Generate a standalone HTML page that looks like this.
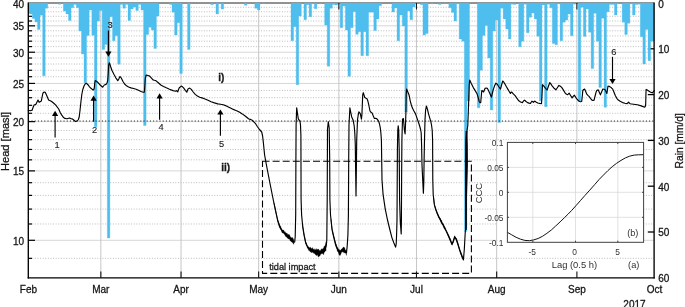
<!DOCTYPE html>
<html lang="en"><head><meta charset="utf-8"><title>Head and rain</title>
<style>html,body{margin:0;padding:0;background:#fff;}svg{display:block;font-family:"Liberation Sans",Arial,Helvetica,sans-serif;}svg text{stroke:#151515;stroke-width:0.28px;}svg .in text,svg text.in{stroke:none;fill:#303030;}svg .nm text{stroke:#222;stroke-width:0.12px;fill:#222;}</style></head><body>
<svg width="685" height="307" viewBox="0 0 685 307">
<rect x="0" y="0" width="685" height="307" fill="#ffffff"/>
<g stroke="#d6d6d6" stroke-width="1" fill="none">
<line x1="28.3" y1="240.30" x2="654.1" y2="240.30"/>
<line x1="28.3" y1="170.88" x2="654.1" y2="170.88"/>
<line x1="28.3" y1="121.63" x2="654.1" y2="121.63"/>
<line x1="28.3" y1="83.43" x2="654.1" y2="83.43"/>
<line x1="28.3" y1="52.22" x2="654.1" y2="52.22"/>
<line x1="28.3" y1="25.83" x2="654.1" y2="25.83"/>
<line x1="100.84" y1="3.0" x2="100.84" y2="278.0" stroke="#c6c6c6"/>
<line x1="181.04" y1="3.0" x2="181.04" y2="278.0" stroke="#c6c6c6"/>
<line x1="258.66" y1="3.0" x2="258.66" y2="278.0" stroke="#c6c6c6"/>
<line x1="338.86" y1="3.0" x2="338.86" y2="278.0" stroke="#c6c6c6"/>
<line x1="416.48" y1="3.0" x2="416.48" y2="278.0" stroke="#c6c6c6"/>
<line x1="496.68" y1="3.0" x2="496.68" y2="278.0" stroke="#c6c6c6"/>
<line x1="576.89" y1="3.0" x2="576.89" y2="142.4" stroke="#c6c6c6"/>
</g>
<g stroke="#bdbdbd" stroke-width="1" stroke-dasharray="1 1.6" fill="none">
<line x1="32.3" y1="258.34" x2="654.1" y2="258.34"/>
<line x1="32.3" y1="223.98" x2="654.1" y2="223.98"/>
<line x1="32.3" y1="209.09" x2="654.1" y2="209.09"/>
<line x1="32.3" y1="195.38" x2="654.1" y2="195.38"/>
<line x1="32.3" y1="182.70" x2="654.1" y2="182.70"/>
<line x1="32.3" y1="159.84" x2="654.1" y2="159.84"/>
<line x1="32.3" y1="149.46" x2="654.1" y2="149.46"/>
<line x1="32.3" y1="139.67" x2="654.1" y2="139.67"/>
<line x1="32.3" y1="130.41" x2="654.1" y2="130.41"/>
<line x1="32.3" y1="113.28" x2="654.1" y2="113.28"/>
<line x1="32.3" y1="105.32" x2="654.1" y2="105.32"/>
<line x1="32.3" y1="97.71" x2="654.1" y2="97.71"/>
<line x1="32.3" y1="90.42" x2="654.1" y2="90.42"/>
<line x1="32.3" y1="76.72" x2="654.1" y2="76.72"/>
<line x1="32.3" y1="70.26" x2="654.1" y2="70.26"/>
<line x1="32.3" y1="64.03" x2="654.1" y2="64.03"/>
<line x1="32.3" y1="58.02" x2="654.1" y2="58.02"/>
<line x1="32.3" y1="46.60" x2="654.1" y2="46.60"/>
<line x1="32.3" y1="41.17" x2="654.1" y2="41.17"/>
<line x1="32.3" y1="35.90" x2="654.1" y2="35.90"/>
<line x1="32.3" y1="30.79" x2="654.1" y2="30.79"/>
<line x1="32.3" y1="21.00" x2="654.1" y2="21.00"/>
<line x1="32.3" y1="16.31" x2="654.1" y2="16.31"/>
<line x1="32.3" y1="11.75" x2="654.1" y2="11.75"/>
<line x1="32.3" y1="7.30" x2="654.1" y2="7.30"/>
</g>
<line x1="28.3" y1="3.0" x2="654.1" y2="3.0" stroke="#262626" stroke-width="1.1"/>
<g stroke="#1a1a1a" stroke-width="1.1">
<line x1="100.84" y1="3.0" x2="100.84" y2="9.5"/>
<line x1="181.04" y1="3.0" x2="181.04" y2="9.5"/>
<line x1="258.66" y1="3.0" x2="258.66" y2="9.5"/>
<line x1="338.86" y1="3.0" x2="338.86" y2="9.5"/>
<line x1="416.48" y1="3.0" x2="416.48" y2="9.5"/>
<line x1="496.68" y1="3.0" x2="496.68" y2="9.5"/>
<line x1="576.89" y1="3.0" x2="576.89" y2="9.5"/>
</g>
<line x1="28.3" y1="258.34" x2="32.0" y2="258.34" stroke="#000" stroke-width="1.2"/>
<line x1="28.3" y1="240.30" x2="35.0" y2="240.30" stroke="#000" stroke-width="1.2"/>
<line x1="28.3" y1="223.98" x2="32.0" y2="223.98" stroke="#000" stroke-width="1.2"/>
<line x1="28.3" y1="209.09" x2="32.0" y2="209.09" stroke="#000" stroke-width="1.2"/>
<line x1="28.3" y1="195.38" x2="32.0" y2="195.38" stroke="#000" stroke-width="1.2"/>
<line x1="28.3" y1="182.70" x2="32.0" y2="182.70" stroke="#000" stroke-width="1.2"/>
<line x1="28.3" y1="170.88" x2="35.0" y2="170.88" stroke="#000" stroke-width="1.2"/>
<line x1="28.3" y1="159.84" x2="32.0" y2="159.84" stroke="#000" stroke-width="1.2"/>
<line x1="28.3" y1="149.46" x2="32.0" y2="149.46" stroke="#000" stroke-width="1.2"/>
<line x1="28.3" y1="139.67" x2="32.0" y2="139.67" stroke="#000" stroke-width="1.2"/>
<line x1="28.3" y1="130.41" x2="32.0" y2="130.41" stroke="#000" stroke-width="1.2"/>
<line x1="28.3" y1="121.63" x2="35.0" y2="121.63" stroke="#000" stroke-width="1.2"/>
<line x1="28.3" y1="113.28" x2="32.0" y2="113.28" stroke="#000" stroke-width="1.2"/>
<line x1="28.3" y1="105.32" x2="32.0" y2="105.32" stroke="#000" stroke-width="1.2"/>
<line x1="28.3" y1="97.71" x2="32.0" y2="97.71" stroke="#000" stroke-width="1.2"/>
<line x1="28.3" y1="90.42" x2="32.0" y2="90.42" stroke="#000" stroke-width="1.2"/>
<line x1="28.3" y1="83.43" x2="35.0" y2="83.43" stroke="#000" stroke-width="1.2"/>
<line x1="28.3" y1="76.72" x2="32.0" y2="76.72" stroke="#000" stroke-width="1.2"/>
<line x1="28.3" y1="70.26" x2="32.0" y2="70.26" stroke="#000" stroke-width="1.2"/>
<line x1="28.3" y1="64.03" x2="32.0" y2="64.03" stroke="#000" stroke-width="1.2"/>
<line x1="28.3" y1="58.02" x2="32.0" y2="58.02" stroke="#000" stroke-width="1.2"/>
<line x1="28.3" y1="52.22" x2="35.0" y2="52.22" stroke="#000" stroke-width="1.2"/>
<line x1="28.3" y1="46.60" x2="32.0" y2="46.60" stroke="#000" stroke-width="1.2"/>
<line x1="28.3" y1="41.17" x2="32.0" y2="41.17" stroke="#000" stroke-width="1.2"/>
<line x1="28.3" y1="35.90" x2="32.0" y2="35.90" stroke="#000" stroke-width="1.2"/>
<line x1="28.3" y1="30.79" x2="32.0" y2="30.79" stroke="#000" stroke-width="1.2"/>
<line x1="28.3" y1="25.83" x2="35.0" y2="25.83" stroke="#000" stroke-width="1.2"/>
<line x1="28.3" y1="21.00" x2="32.0" y2="21.00" stroke="#000" stroke-width="1.2"/>
<line x1="28.3" y1="16.31" x2="32.0" y2="16.31" stroke="#000" stroke-width="1.2"/>
<line x1="28.3" y1="11.75" x2="32.0" y2="11.75" stroke="#000" stroke-width="1.2"/>
<line x1="28.3" y1="7.30" x2="32.0" y2="7.30" stroke="#000" stroke-width="1.2"/>
<line x1="654.1" y1="48.80" x2="647.8000000000001" y2="48.80" stroke="#000" stroke-width="1.3"/>
<line x1="654.1" y1="94.60" x2="647.8000000000001" y2="94.60" stroke="#000" stroke-width="1.3"/>
<line x1="654.1" y1="140.40" x2="647.8000000000001" y2="140.40" stroke="#000" stroke-width="1.3"/>
<line x1="654.1" y1="186.20" x2="647.8000000000001" y2="186.20" stroke="#000" stroke-width="1.3"/>
<line x1="654.1" y1="232.00" x2="647.8000000000001" y2="232.00" stroke="#000" stroke-width="1.3"/>
<path d="M28.30,3.05V13.50H29.69V13.90H32.28V18.40H34.87V21.90H37.46V29.40H40.04V15.20H42.63V75.80H45.22V8.20H47.80V3.05ZM58.15,3.05V4.20H60.74V3.05ZM63.33,3.05V11.00H65.91V13.90H68.50V20.50H71.09V7.80H73.68V4.40H76.26V7.80H78.85V31.00H81.44V54.00H84.02V82.80H86.61V35.50H89.20V10.00H91.79V35.20H94.37V126.70H96.96V21.10H99.55V10.50H102.14V49.50H104.72V44.50H107.31V238.00H109.90V16.70H112.48V40.70H115.07V35.70H117.66V64.20H120.25V4.40H122.83V8.30H125.42V4.40H128.01V20.50H130.59V8.90H133.18V6.90H135.77V10.50H138.36V4.40H140.94V10.00H143.53V125.50H146.12V34.50H148.70V27.20H151.29V30.00H153.88V48.40H156.47V16.10H159.05V3.05ZM169.40,3.05V4.40H171.99V12.20H174.58V35.00H177.16V22.80H179.75V73.50H182.34V3.05ZM187.51,3.05V49.50H190.10V3.05ZM210.80,3.05V4.70H213.38V3.05ZM215.97,3.05V13.90H218.56V3.60H221.15V9.10H223.73V3.05ZM244.43,3.05V5.30H247.02V3.05ZM254.78,3.05V8.30H257.37V10.00H259.95V3.05ZM262.54,3.05V3.60H265.13V3.05ZM291.00,3.05V40.70H293.59V26.70H296.18V84.70H298.76V16.10H301.35V3.05ZM303.94,3.05V19.80H306.52V4.70H309.11V16.70H311.70V3.60H314.29V8.70H316.87V3.05ZM319.46,3.05V3.60H322.05V3.05ZM324.63,3.05V25.00H327.22V66.20H329.81V8.30H332.40V4.40H334.98V5.00H337.57V3.05ZM340.16,3.05V27.80H342.74V6.10H345.33V30.00H347.92V76.30H350.51V27.80H353.09V11.70H355.68V34.30H358.27V31.70H360.86V55.70H363.44V31.70H366.03V55.70H368.62V12.20H371.20V12.20H373.79V30.50H376.38V18.90H378.97V5.80H381.55V3.05ZM391.90,3.05V12.00H394.49V8.00H397.08V40.70H399.66V15.00H402.25V26.10H404.84V112.10H407.42V11.10H410.01V19.80H412.60V6.90H415.19V3.05ZM420.36,3.05V4.70H422.95V35.00H425.54V33.50H428.12V3.05ZM430.71,3.05V3.90H433.30V3.05ZM438.47,3.05V4.40H441.06V3.05ZM443.65,3.05V3.60H446.23V3.05ZM448.82,3.05V7.80H451.41V12.40H453.99V20.90H456.58V3.90H459.17V39.00H461.76V41.20H464.34V231.50H466.93V101.00H469.52V3.05ZM477.28,3.05V107.80H479.87V70.20H482.45V35.50H485.04V25.60H487.63V57.90H490.22V110.00H492.80V31.00H495.39V20.00H497.98V122.60H500.56V8.30H503.15V18.90H505.74V28.90H508.33V39.00H510.91V4.20H513.50V4.40H516.09V3.05ZM518.67,3.05V46.80H521.26V41.20H523.85V4.20H526.44V32.80H529.02V17.20H531.61V13.10H534.20V18.90H536.78V36.20H539.37V101.00H541.96V5.00H544.55V106.70H547.13V4.20H549.72V7.80H552.31V43.40H554.90V44.80H557.48V3.90H560.07V40.70H562.66V22.20H565.24V20.00H567.83V13.90H570.42V35.70H573.01V4.20H575.59V3.05ZM578.18,3.05V101.30H580.77V7.20H583.35V36.40H585.94V9.10H588.53V32.20H591.12V68.50H593.70V13.30H596.29V41.20H598.88V87.40H601.46V18.30H604.05V107.30H606.64V11.70H609.23V4.40H611.81V4.40H614.40V15.00H616.99V3.90H619.58V3.05ZM622.16,3.05V22.20H624.75V34.50H627.34V23.30H629.92V3.90H632.51V15.00H635.10V4.40H637.69V4.20H640.27V36.80H642.86V64.00H645.45V29.40H648.03V60.70H650.62V41.20H653.21V41.20H654.10V3.05Z" fill="#4dbeee" stroke="#4dbeee" stroke-width="0.3"/>
<line x1="28.3" y1="121" x2="654.1" y2="121" stroke="#1c1c1c" stroke-width="1.0" stroke-dasharray="1.05 2.15"/>
<polyline points="28.3,110.2 30.2,110.7 32.2,110.1 33.2,107.0 34.1,105.0 35.8,104.4 37.0,102.0 38.0,100.1 39.1,102.3 40.2,101.7 41.3,101.1 42.2,96.5 43.0,92.9 44.2,92.1 45.2,92.3 46.5,95.0 48.6,100.0 51.3,101.3 53.5,103.0 55.8,105.2 58.7,109.0 60.2,112.5 61.6,114.9 63.6,117.6 64.8,118.4 67.0,118.8 69.5,118.0 70.8,118.6 72.5,119.0 75.5,121.5 77.2,121.0 78.4,119.5 79.2,117.0 80.0,110.5 80.9,102.0 81.8,94.5 82.8,89.5 84.0,86.0 85.3,83.8 86.2,83.3 87.2,84.0 88.2,85.0 89.5,86.8 91.0,88.3 92.5,89.6 93.6,90.0 94.3,88.0 94.8,82.5 95.2,80.6 96.5,81.3 98.2,82.8 100.2,85.0 102.7,87.2 103.5,86.0 104.3,85.0 106.0,84.4 107.0,83.0 107.7,80.6 108.2,74.0 108.7,65.0 109.2,62.8 109.8,63.8 110.6,66.5 112.0,70.5 113.9,74.3 115.8,77.8 117.8,80.7 118.8,79.0 119.8,76.6 120.6,77.0 121.5,78.5 123.0,81.5 124.6,84.0 126.5,85.8 128.6,87.0 131.0,87.9 133.6,88.5 136.2,89.3 138.5,90.2 141.0,91.5 143.2,92.3 144.3,92.2 144.8,86.0 145.3,78.3 146.2,75.0 148.0,75.5 149.7,76.1 151.5,78.2 153.0,79.9 154.5,80.3 155.8,80.6 158.3,82.8 160.8,85.0 163.5,86.5 166.3,87.8 169.5,89.2 173.0,90.6 175.8,91.2 176.6,90.6 177.8,91.8 178.5,89.5 179.3,87.8 181.3,86.1 182.5,86.8 183.6,87.9 185.3,90.3 186.8,92.2 187.4,90.5 188.0,88.9 189.7,88.1 191.3,89.4 193.2,92.0 195.2,94.4 197.4,96.0 199.7,97.2 202.0,97.9 204.4,98.7 208.0,100.2 211.1,101.7 214.5,102.9 217.8,103.9 220.5,104.3 223.3,104.8 225.5,105.6 227.8,106.7 230.5,108.0 233.3,109.4 235.3,110.2 237.2,111.0 239.7,112.3 242.2,113.9 244.5,115.5 246.7,117.2 248.2,118.5 249.4,119.3 250.6,119.4 251.7,119.9 253.3,121.3 255.3,123.3 257.3,126.5 259.5,129.5 261.7,132.0 262.6,136.0 263.3,142.0 264.6,155.0 267.0,168.0 270.0,183.5 273.3,200.0 275.5,210.3 277.7,220.5 279.9,227.1 282.1,230.8 284.0,232.5 285.8,234.7 288.0,236.2 290.2,238.3 292.0,240.0 293.9,242.2 294.7,242.0 295.2,236.7 295.7,214.7 295.9,160.0 296.1,125.0 296.7,107.8 297.5,113.5 298.3,118.9 300.0,121.3 300.5,125.0 300.9,135.0 301.1,200.0 301.6,214.7 302.7,226.4 304.1,235.2 305.6,242.3 307.0,245.8 308.5,248.2 311.0,250.0 313.7,251.1 316.3,252.3 318.8,253.3 320.6,252.3 322.4,251.1 324.0,250.0 325.4,248.2 326.3,245.5 326.8,240.0 327.2,200.0 327.5,129.0 328.3,121.7 329.2,128.0 329.7,160.0 329.9,200.0 330.5,214.7 332.0,229.3 333.2,234.5 334.5,240.0 335.5,244.0 337.0,248.0 338.5,251.0 340.0,253.3 341.2,251.5 342.2,249.7 343.3,249.8 344.4,250.4 345.6,251.8 346.5,252.6 347.2,246.0 347.9,235.0 348.4,215.0 348.7,160.0 349.0,125.0 349.9,107.8 350.8,112.5 351.7,116.9 353.2,120.3 354.2,126.0 354.8,133.0 355.3,145.0 355.7,175.0 356.0,196.0 356.3,175.0 356.7,140.0 357.5,119.9 358.2,115.0 358.9,111.9 359.7,112.8 360.4,114.1 361.4,119.2 361.9,115.0 362.3,105.0 362.7,95.0 363.3,92.7 364.0,95.0 364.8,97.6 366.0,98.2 367.0,98.7 367.8,100.8 368.5,103.7 369.3,107.5 370.0,111.0 371.0,112.3 372.1,112.9 373.2,115.8 374.3,118.4 375.4,118.3 376.5,118.5 377.7,119.8 378.7,121.4 379.5,124.0 380.2,127.3 380.8,132.0 381.4,140.0 381.7,160.0 382.0,180.0 383.1,194.7 385.3,209.3 387.5,220.0 389.7,229.0 391.9,237.6 393.7,242.5 395.6,247.1 396.2,244.0 396.6,234.7 397.0,220.0 397.4,150.0 397.8,130.0 398.2,125.8 398.7,130.0 399.2,150.0 399.6,200.0 400.3,222.0 401.2,234.0 401.4,222.0 401.6,180.0 401.9,140.0 402.5,119.2 403.4,118.5 403.9,124.0 404.4,130.2 405.1,133.9 405.5,125.0 405.9,112.6 406.2,95.0 406.6,89.1 407.5,91.2 408.8,94.2 409.5,97.0 410.2,100.8 411.2,104.5 412.4,108.1 413.8,110.8 415.4,113.6 416.5,116.6 417.6,119.9 418.7,123.0 419.8,126.5 420.6,129.5 421.2,133.0 421.6,145.0 422.0,165.0 422.8,182.0 423.4,193.2 423.8,182.0 424.1,160.0 424.5,140.0 425.0,120.0 425.6,110.0 426.4,106.0 427.5,109.5 428.6,114.1 429.7,117.8 430.8,121.4 431.6,125.5 432.2,130.2 432.6,140.0 432.8,180.0 433.2,194.7 434.4,204.9 435.8,209.5 437.4,213.7 438.8,217.0 440.3,219.6 442.0,223.0 443.3,225.3 445.5,229.5 447.7,234.1 449.8,238.8 451.9,244.2 453.4,241.2 454.6,236.8 455.5,238.0 456.4,239.5 458.1,244.8 459.9,250.6 461.6,255.3 463.4,260.0 464.3,249.5 465.2,233.0 465.9,226.0 466.0,200.0 466.0,141.0 466.8,132.0 467.8,125.3 468.3,112.0 468.7,100.4 469.2,85.0 469.7,80.0 471.3,83.5 473.3,87.6 475.2,90.6 477.0,93.7 478.2,97.5 479.2,101.5 480.0,102.7 480.7,102.6 481.3,96.0 481.8,90.5 482.7,91.0 483.6,92.0 484.4,90.0 485.1,88.3 486.2,88.0 487.3,88.3 488.4,90.3 489.5,92.7 490.5,95.0 491.4,97.1 492.4,93.0 493.4,89.1 494.6,85.8 495.8,83.2 496.7,83.7 497.5,84.7 499.0,87.0 500.5,89.1 501.7,84.5 502.7,81.0 503.8,82.2 504.9,83.9 506.3,86.5 507.8,89.1 509.2,91.5 510.4,93.5 511.0,92.3 511.6,92.0 513.3,93.8 515.1,95.7 517.0,98.3 518.8,100.8 520.6,102.0 522.4,102.6 523.5,101.0 524.6,100.1 526.0,101.5 527.6,102.6 529.0,103.1 530.5,103.4 531.3,102.0 532.0,101.1 532.7,101.8 533.4,102.3 534.2,101.5 534.9,101.1 536.3,102.2 537.8,103.0 539.6,103.4 541.5,103.7 542.0,95.0 542.5,84.7 543.4,85.7 544.4,86.9 545.8,88.7 547.1,90.0 548.5,86.0 549.8,82.5 551.0,84.2 552.3,86.1 554.0,88.2 556.0,89.8 557.5,87.5 558.9,85.4 560.4,86.3 561.9,87.6 563.7,90.6 565.5,93.5 566.6,94.2 567.7,94.6 568.5,93.8 569.2,93.2 570.6,95.5 572.1,97.9 573.2,96.3 574.3,95.2 575.4,96.8 576.5,98.6 578.0,100.2 579.5,101.5 580.6,101.7 581.7,101.5 582.3,96.0 582.8,90.5 583.7,89.5 584.6,89.1 585.7,91.5 586.8,94.2 587.9,95.4 589.0,96.4 590.5,98.4 591.9,100.1 593.0,100.4 594.1,100.1 595.2,95.5 596.3,91.3 597.2,90.2 598.1,89.8 599.3,92.3 600.4,94.9 601.6,92.0 602.9,89.1 604.0,89.2 605.1,89.8 606.0,91.5 606.9,93.5 607.4,90.0 608.0,86.1 609.0,86.2 610.2,86.9 611.4,87.8 612.7,89.1 614.0,92.3 615.4,95.7 616.8,98.3 618.3,100.1 620.5,101.5 622.7,102.6 625.0,103.2 627.1,103.6 627.9,102.8 628.6,102.2 629.3,103.0 630.0,103.7 633.5,104.2 637.4,104.8 641.2,105.9 644.6,107.2 645.3,106.5 645.7,104.0 645.9,95.0 646.1,89.4 647.3,90.0 649.0,91.2 650.7,92.2 652.3,92.8 653.4,91.7 654.5,90.6" fill="none" stroke="#000" stroke-width="1.15" stroke-linejoin="round" stroke-linecap="round"/>
<polygon points="274.00,202.92 274.62,205.63 275.24,208.51 275.86,211.58 276.48,214.42 277.10,217.19 277.72,219.65 278.34,221.67 278.96,222.89 279.58,224.74 280.20,225.66 280.82,226.77 281.44,228.65 282.06,229.43 282.68,230.14 283.30,229.99 283.92,230.61 284.54,232.05 285.16,231.82 285.78,233.12 286.40,233.29 287.02,233.12 287.64,234.42 288.26,234.41 288.88,234.61 289.50,234.71 290.12,236.27 290.74,237.31 291.36,238.09 291.98,237.29 292.60,237.75 293.22,238.78 293.84,239.69 293.84,244.33 293.22,243.85 292.60,242.56 291.98,242.31 291.36,241.87 290.74,240.93 290.12,240.79 289.50,239.02 288.88,238.70 288.26,239.09 287.64,238.04 287.02,237.79 286.40,236.67 285.78,236.67 285.16,235.62 284.54,234.49 283.92,233.52 283.30,233.37 282.68,233.05 282.06,232.72 281.44,230.70 280.82,229.83 280.20,228.45 279.58,227.34 278.96,226.01 278.34,223.27 277.72,221.81 277.10,218.26 276.48,215.50 275.86,212.60 275.24,209.58 274.62,206.49 274.00,203.57" fill="#000" stroke="#000" stroke-width="0.3" stroke-linejoin="round"/>
<polygon points="302.50,223.64 303.12,228.48 303.74,232.52 304.36,235.59 304.98,238.27 305.60,241.42 306.22,243.21 306.84,244.54 307.46,245.71 308.08,246.55 308.70,246.94 309.32,247.73 309.94,247.41 310.56,247.33 311.18,248.50 311.80,248.54 312.42,247.62 313.04,249.23 313.66,249.30 314.28,248.78 314.90,250.22 315.52,249.64 316.14,248.51 316.76,249.70 317.38,249.48 318.00,249.10 318.62,249.31 319.24,250.30 319.86,250.66 320.48,250.38 321.10,249.52 321.72,248.68 322.34,249.21 322.96,248.48 323.58,248.26 324.20,245.98 324.82,246.23 325.44,245.01 326.06,241.68 326.06,251.19 325.44,250.43 324.82,251.95 324.20,252.14 323.58,254.79 322.96,253.71 322.34,253.50 321.72,253.60 321.10,254.28 320.48,254.37 319.86,256.18 319.24,255.83 318.62,256.95 318.00,256.57 317.38,254.47 316.76,255.51 316.14,255.34 315.52,254.68 314.90,253.98 314.28,253.28 313.66,253.36 313.04,252.54 312.42,252.07 311.80,253.02 311.18,251.87 310.56,252.10 309.94,251.56 309.32,250.38 308.70,250.39 308.08,248.66 307.46,248.16 306.84,246.21 306.22,244.91 305.60,243.42 304.98,240.07 304.36,237.50 303.74,233.72 303.12,229.70 302.50,224.95" fill="#000" stroke="#000" stroke-width="0.3" stroke-linejoin="round"/>
<polygon points="331.00,219.09 331.62,225.23 332.24,229.77 332.86,232.06 333.48,235.19 334.10,237.35 334.72,239.75 335.34,242.09 335.96,243.39 336.58,245.65 337.20,247.18 337.82,247.73 338.44,249.16 339.06,249.28 339.68,250.15 340.30,250.25 340.92,250.35 341.54,249.09 342.16,248.54 342.78,248.11 343.40,246.97 344.02,247.34 344.64,247.78 345.26,249.82 345.88,250.50 346.50,250.28 346.50,255.42 345.88,253.61 345.26,253.00 344.64,252.52 344.02,253.14 343.40,251.83 342.78,252.16 342.16,251.44 341.54,252.11 340.92,254.00 340.30,255.32 339.68,255.38 339.06,254.74 338.44,252.42 337.82,251.95 337.20,250.50 336.58,248.25 335.96,246.86 335.34,245.11 334.72,241.53 334.10,238.96 333.48,236.85 332.86,233.56 332.24,230.87 331.62,225.98 331.00,220.05" fill="#000" stroke="#000" stroke-width="0.3" stroke-linejoin="round"/>
<polygon points="433.50,196.62 434.12,201.90 434.74,205.62 435.36,207.14 435.98,209.08 436.60,211.02 437.22,212.49 437.84,213.45 438.46,215.31 439.08,216.26 439.70,217.82 440.32,218.11 440.94,220.05 441.56,220.36 442.18,222.18 442.80,223.53 443.42,223.82 444.04,225.54 444.66,226.89 445.28,227.81 445.90,229.61 446.52,230.91 447.14,232.16 447.76,233.56 448.38,234.73 449.00,235.88 449.62,237.39 450.24,238.82 450.86,240.37 451.48,242.01 452.10,243.12 452.72,241.71 453.34,239.92 453.96,238.16 454.58,235.66 455.20,236.84 455.82,237.64 456.44,238.23 457.06,240.37 457.68,241.98 458.30,244.23 458.92,246.33 459.54,248.39 460.16,250.25 460.78,251.77 461.40,253.27 462.02,255.28 462.64,256.65 462.64,258.74 462.02,257.87 461.40,255.60 460.78,254.46 460.16,252.82 459.54,250.57 458.92,248.73 458.30,246.56 457.68,244.56 457.06,242.94 456.44,240.77 455.82,239.46 455.20,238.81 454.58,238.31 453.96,240.33 453.34,242.55 452.72,243.71 452.10,245.29 451.48,243.97 450.86,242.19 450.24,241.07 449.62,239.86 449.00,238.42 448.38,236.61 447.76,235.58 447.14,233.83 446.52,232.64 445.90,231.09 445.28,229.83 444.66,229.31 444.04,228.28 443.42,226.91 442.80,225.17 442.18,224.67 441.56,223.53 440.94,222.40 440.32,221.07 439.70,219.32 439.08,218.22 438.46,217.54 437.84,215.57 437.22,214.31 436.60,212.60 435.98,210.70 435.36,208.89 434.74,206.72 434.12,203.21 433.50,197.73" fill="#000" stroke="#000" stroke-width="0.3" stroke-linejoin="round"/>
<polygon points="465.3,230 466.7,230 466.9,200 467.9,165 467.8,145 467.4,131 465.6,131 465.1,165 465.1,200" fill="#000"/>
<rect x="262.5" y="161.3" width="208.9" height="112.1" fill="none" stroke="#000" stroke-width="1.1" stroke-dasharray="7 3.1"/>
<text x="269.2" y="269.6" font-size="9.2" fill="#222">tidal impact</text>
<line x1="55.1" y1="113.8" x2="55.1" y2="137.4" stroke="#000" stroke-width="1.15"/>
<polygon points="55.1,110.8 52.0,116.0 58.2,116.0" fill="#000"/>
<line x1="93.6" y1="98.6" x2="93.6" y2="121.7" stroke="#000" stroke-width="1.15"/>
<polygon points="93.6,95.6 90.5,100.8 96.69999999999999,100.8" fill="#000"/>
<line x1="108.4" y1="53.8" x2="108.4" y2="30.4" stroke="#000" stroke-width="1.15"/>
<polygon points="108.4,56.8 105.30000000000001,51.599999999999994 111.5,51.599999999999994" fill="#000"/>
<line x1="159.6" y1="96.2" x2="159.6" y2="119.7" stroke="#000" stroke-width="1.15"/>
<polygon points="159.6,93.2 156.5,98.4 162.7,98.4" fill="#000"/>
<line x1="220.4" y1="112.4" x2="220.4" y2="135.8" stroke="#000" stroke-width="1.15"/>
<polygon points="220.4,109.4 217.3,114.60000000000001 223.5,114.60000000000001" fill="#000"/>
<line x1="612.5" y1="81.1" x2="612.5" y2="56.8" stroke="#000" stroke-width="1.15"/>
<polygon points="612.5,84.1 609.4,78.89999999999999 615.6,78.89999999999999" fill="#000"/>
<g class="nm" font-size="9.3" text-anchor="middle">
<text x="57" y="148.4">1</text>
<text x="94.7" y="133.0">2</text>
<text x="110" y="27.8">3</text>
<text x="161.1" y="129.9">4</text>
<text x="221.6" y="146.6">5</text>
<text x="613.9" y="54.6">6</text>
</g>
<g font-size="10" font-weight="bold" fill="#1a1a1a">
<text x="218.3" y="80.5">i)</text><text x="221.2" y="170.7">ii)</text></g>
<rect x="497.5" y="141" width="10" height="106" fill="#fff"/>
<rect x="507.4" y="142.4" width="136.20000000000005" height="99.9" fill="#fff"/>
<g stroke="#d4d4d4" stroke-width="0.7">
<line x1="532.8" y1="142.4" x2="532.8" y2="242.3"/>
<line x1="575.5" y1="142.4" x2="575.5" y2="242.3"/>
<line x1="617.8" y1="142.4" x2="617.8" y2="242.3"/>
<line x1="507.4" y1="167.4" x2="643.6" y2="167.4"/>
<line x1="507.4" y1="192.3" x2="643.6" y2="192.3"/>
<line x1="507.4" y1="217.3" x2="643.6" y2="217.3"/>
</g>
<polyline points="507.3,232.3 511.7,234.8 516.1,237.3 520.5,239.2 524.9,240.4 529.3,240.7 533.7,239.9 538.1,238.5 542.5,236.3 546.9,233.3 551.3,230 555.7,226 560.1,221.9 564.5,217.6 568.2,214 571.8,210.3 576.2,205.4 580.6,200.4 585,195.4 589.8,190.1 594.6,184.7 599,179.6 603.4,175.1 607.8,170.7 612.2,166.7 616.6,163.3 621,160.4 625.4,157.9 629.8,156.1 634.2,155.1 638.6,154.8 643.4,154.7" fill="none" stroke="#111" stroke-width="1"/>
<rect x="507.4" y="142.4" width="136.20000000000005" height="99.9" fill="none" stroke="#404040" stroke-width="1"/>
<g stroke="#333" stroke-width="0.9">
<line x1="532.8" y1="242.3" x2="532.8" y2="240.70000000000002"/><line x1="532.8" y1="142.4" x2="532.8" y2="144.0"/>
<line x1="575.5" y1="242.3" x2="575.5" y2="240.70000000000002"/><line x1="575.5" y1="142.4" x2="575.5" y2="144.0"/>
<line x1="617.8" y1="242.3" x2="617.8" y2="240.70000000000002"/><line x1="617.8" y1="142.4" x2="617.8" y2="144.0"/>
<line x1="507.4" y1="167.4" x2="509.0" y2="167.4"/><line x1="643.6" y1="167.4" x2="642.0" y2="167.4"/>
<line x1="507.4" y1="192.3" x2="509.0" y2="192.3"/><line x1="643.6" y1="192.3" x2="642.0" y2="192.3"/>
<line x1="507.4" y1="217.3" x2="509.0" y2="217.3"/><line x1="643.6" y1="217.3" x2="642.0" y2="217.3"/>
</g>
<g class="in" font-size="8.4" fill="#151515" text-anchor="end">
<text x="503.5" y="145.6">0.1</text>
<text x="503.5" y="170.6">0.05</text>
<text x="503.5" y="195.5">0</text>
<text x="503.5" y="220.5">-0.05</text>
<text x="503.5" y="245.5">-0.1</text>
</g>
<g class="in" font-size="8.4" fill="#151515" text-anchor="middle">
<text x="532.3" y="255.1">-5</text>
<text x="574.7" y="255.1">0</text>
<text x="617.5" y="255.1">5</text>
</g>
<text class="in" x="574.4" y="268" font-size="9.4" fill="#151515" text-anchor="middle">Lag (0.5 h)</text>
<text class="in" x="482.3" y="193.1" font-size="9.4" fill="#151515" text-anchor="middle" transform="rotate(-90 482.3 193.1)">CCC</text>
<text class="in" x="632.8" y="236" font-size="9.2" fill="#151515" text-anchor="middle">(b)</text>
<text class="in" x="633.7" y="268.3" font-size="9.2" fill="#151515" text-anchor="middle">(a)</text>
<g stroke="#000" stroke-width="1.35" fill="none">
<line x1="28.3" y1="2.5" x2="28.3" y2="278.6"/>
<line x1="654.1" y1="2.5" x2="654.1" y2="278.6"/>
<line x1="27.7" y1="277.8" x2="654.7" y2="277.8"/>
</g>
<g stroke="#111" stroke-width="1.1">
<line x1="100.84" y1="278.0" x2="100.84" y2="271.4"/>
<line x1="181.04" y1="278.0" x2="181.04" y2="271.4"/>
<line x1="258.66" y1="278.0" x2="258.66" y2="271.4"/>
<line x1="338.86" y1="278.0" x2="338.86" y2="271.4"/>
<line x1="416.48" y1="278.0" x2="416.48" y2="271.4"/>
<line x1="496.68" y1="278.0" x2="496.68" y2="271.4"/>
<line x1="576.89" y1="278.0" x2="576.89" y2="271.4"/>
</g>
<g font-size="10" fill="#151515" text-anchor="end">
<text x="24" y="244.60">10</text>
<text x="24" y="175.18">15</text>
<text x="24" y="125.93">20</text>
<text x="24" y="87.73">25</text>
<text x="24" y="56.52">30</text>
<text x="24" y="30.13">35</text>
<text x="24" y="7.72">40</text>
</g>
<g font-size="10" fill="#151515">
<text x="658.3" y="7.60">0</text>
<text x="658.3" y="53.10">10</text>
<text x="658.3" y="98.90">20</text>
<text x="658.3" y="144.70">30</text>
<text x="658.3" y="190.50">40</text>
<text x="658.3" y="236.30">50</text>
<text x="658.3" y="282.40">60</text>
</g>
<g font-size="10" fill="#151515" text-anchor="middle">
<text x="28.40" y="293.35">Feb</text>
<text x="100.84" y="293.35">Mar</text>
<text x="181.04" y="293.35">Apr</text>
<text x="258.66" y="293.35">May</text>
<text x="338.86" y="293.35">Jun</text>
<text x="416.48" y="293.35">Jul</text>
<text x="496.68" y="293.35">Aug</text>
<text x="576.89" y="293.35">Sep</text>
<text x="654.50" y="293.35">Oct</text>
</g>
<text x="645.6" y="307.5" font-size="10" fill="#151515" text-anchor="end">2017</text>
<text x="9" y="141.4" font-size="11.1" fill="#151515" text-anchor="middle" transform="rotate(-90 9 141.4)">Head [masl]</text>
<text x="683.5" y="140.8" font-size="10.25" fill="#151515" text-anchor="middle" transform="rotate(-90 683.5 140.8)">Rain [mm/d]</text>
</svg></body></html>
